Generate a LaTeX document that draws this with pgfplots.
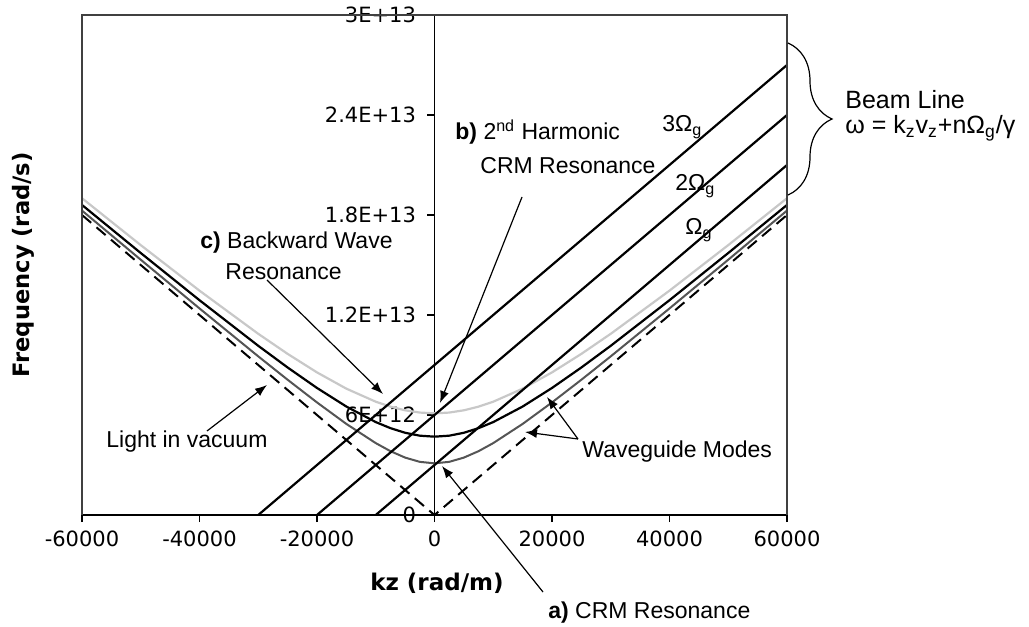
\documentclass[border=0pt]{standalone}
\usepackage{fontspec}
\setmainfont{Liberation Sans}
\newfontfamily\dejavu{DejaVu Sans}
\usepackage{pgfplots}
\pgfplotsset{compat=1.18}
\usetikzlibrary{arrows.meta,decorations.pathreplacing}
\definecolor{lgray}{RGB}{200,200,200}
\definecolor{dgray}{RGB}{85,85,85}
\begin{document}
\begin{tikzpicture}
\begin{axis}[
  scale only axis, width=352.5pt, height=250pt,
  xmin=-60000, xmax=60000, ymin=0, ymax=3e13,
  axis x line*=bottom, axis y line*=middle,
  hide obscured x ticks=false, hide obscured y ticks=false,
  axis line style={line width=0.6pt},
  xtick={-60000,-40000,-20000,0,20000,40000,60000},
  xticklabels={\mbox{-60000},\mbox{-40000},\mbox{-20000},\mbox{0},\mbox{20000},\mbox{40000},\mbox{60000}},
  ytick={0,6e12,1.2e13,1.8e13,2.4e13,3e13},
  yticklabels={\mbox{0},\mbox{6E+12},\mbox{1.2E+13},\mbox{1.8E+13},\mbox{2.4E+13},\mbox{3E+13}},
  ticklabel style={font=\dejavu\fontsize{10.5}{12}\selectfont},
  tick align=center, major tick length=3.5pt,
  x tick style={yshift=-1.75pt, black, line width=0.6pt},
  y tick style={xshift=-1.75pt, black, line width=0.6pt},
  xticklabel style={yshift=-2.5pt},
  yticklabel style={xshift=-4pt},
  scaled ticks=false,
]
% waveguide modes
\addplot[dgray, line width=1pt] coordinates {
(-60000,18.265e12) (-50000,15.317e12) (-40000,12.394e12) (-30000,9.519e12) (-25000,8.115e12)
(-20000,6.754e12) (-15000,5.464e12) (-10000,4.314e12) (-7500,3.830e12) (-5000,3.444e12)
(-2500,3.189e12) (0,3.100e12) (2500,3.189e12) (5000,3.444e12) (7500,3.830e12)
(10000,4.314e12) (15000,5.464e12) (20000,6.754e12) (25000,8.115e12) (30000,9.519e12)
(40000,12.394e12) (50000,15.317e12) (60000,18.265e12)};
\addplot[black, line width=1.1pt] coordinates {
(-60000,18.603e12) (-50000,15.719e12) (-40000,12.888e12) (-30000,10.153e12) (-25000,8.851e12)
(-20000,7.622e12) (-15000,6.507e12) (-10000,5.576e12) (-7500,5.211e12) (-5000,4.934e12)
(-2500,4.759e12) (0,4.700e12) (2500,4.759e12) (5000,4.934e12) (7500,5.211e12)
(10000,5.576e12) (15000,6.507e12) (20000,7.622e12) (25000,8.851e12) (30000,10.153e12)
(40000,12.888e12) (50000,15.719e12) (60000,18.603e12)};
\addplot[lgray, line width=1.1pt] coordinates {
(-60000,19.006e12) (-50000,16.193e12) (-40000,13.461e12) (-30000,10.872e12) (-25000,9.668e12)
(-20000,8.556e12) (-15000,7.580e12) (-10000,6.798e12) (-7500,6.502e12) (-5000,6.282e12)
(-2500,6.146e12) (0,6.100e12) (2500,6.146e12) (5000,6.282e12) (7500,6.502e12)
(10000,6.798e12) (15000,7.580e12) (20000,8.556e12) (25000,9.668e12) (30000,10.872e12)
(40000,13.461e12) (50000,16.193e12) (60000,19.006e12)};
% light in vacuum
\addplot[black, line width=1pt, dash pattern=on 6pt off 3.5pt] coordinates {(-60000,1.8e13) (0,0) (60000,1.8e13)};
% beam lines
\addplot[black, line width=1.1pt] coordinates {(-10000,0) (60000,2.1e13)};
\addplot[black, line width=1.1pt] coordinates {(-20000,0) (60000,2.4e13)};
\addplot[black, line width=1.1pt] coordinates {(-30000,0) (60000,2.7e13)};
\end{axis}
\begin{scope}[shift={(current axis.south west)}, xshift=-41pt, yshift=257.5pt, x=0.5pt, y=-0.5pt]
\draw[line width=0.6pt, black!75] (82,515) -- (82,15) -- (787,15) -- (787,515);
\node[font=\dejavu\bfseries\fontsize{11.3}{13}\selectfont, rotate=90] at (23,265) {Frequency (rad/s)};
\node[font=\dejavu\bfseries\fontsize{11.5}{13}\selectfont] at (437,583) {kz (rad/m)};
\begin{scope}[every node/.style={inner sep=0pt, anchor=west, font=\fontsize{11.5}{13}\selectfont}]
\node at (455,132) {\textbf{b)} 2\textsuperscript{nd} Harmonic};
\node at (480,166) {CRM Resonance};
\node at (200,243) {\textbf{c)} Backward Wave};
\node at (225,272) {Resonance};
\node at (106,442) {Light in vacuum};
\node at (582,452) {Waveguide Modes};
\node at (548,613) {\textbf{a)} CRM Resonance};
\node at (662,127) {3Ω\textsubscript{g}};
\node at (675,186) {2Ω\textsubscript{g}};
\node at (685,230) {Ω\textsubscript{g}};
\node[font=\fontsize{12.5}{14}\selectfont] at (845,100) {Beam Line};
\node[font=\fontsize{12.5}{14}\selectfont] at (845,128) {ω = k\textsubscript{z}v\textsubscript{z}+nΩ\textsubscript{g}/γ};
\end{scope}
\begin{scope}[line width=0.6pt, -{Latex[length=6pt,width=4.5pt]}]
\draw (207,431) -- (267,385);
\draw (267,280) -- (383,394);
\draw (522,197) -- (440,403);
\draw (543,592) -- (442,466);
\draw (578,439) -- (547,397);
\draw (578,439) -- (525,432);
\end{scope}
\draw[line width=0.6pt, decorate, decoration={brace, amplitude=22pt}] (788,43) -- (788,195);
\pgfresetboundingbox
\path[use as bounding box] (0,0) rectangle (1029,627);
\end{scope}
\end{tikzpicture}
\end{document}
